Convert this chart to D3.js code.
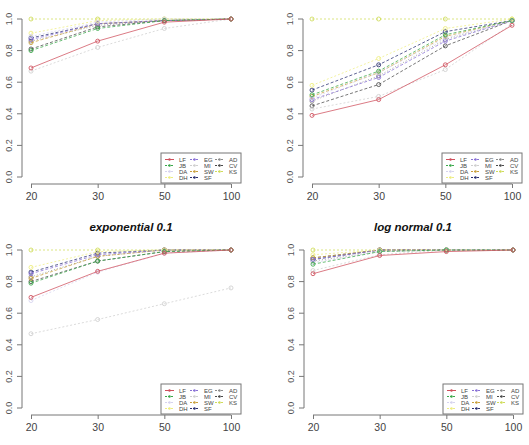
<!DOCTYPE html>
<html>
<head>
<meta charset="utf-8">
<script src="https://cdn.jsdelivr.net/npm/d3@7"></script>
<style>
  body { margin: 0; background: #fff; }
  svg { display: block; font-family: "Liberation Sans", Arial, sans-serif; }
</style>
</head>
<body>
<div id="chart"></div>
<script>
var sizes = ["20", "30", "50", "100"];
var yTicks = [0, 0.2, 0.4, 0.6, 0.8, 1.0];
var tests = ["LF", "JB", "DA", "DH", "EG", "MI", "SW", "SF", "AD", "CV", "KS"];
var testColors = ["#cf4f5c", "#3aa84a", "#d6d3ee", "#eded80", "#8a72d6", "#cfcfcf", "#c9a03c", "#2a3070", "#8c8c8c", "#4a4a4a", "#cfdc5a"];
var testDash = ["", "3,2", "2,2", "2,2", "3,2", "2,2", "3,2", "3,2", "1,2", "3,2", "2,2"];
var titles = ["", "", "exponential 0.1", "log normal 0.1"];

// power by sample size, one array per test, per panel
var panel1 = {
  LF: [0.69, 0.86, 0.98, 1.0],
  JB: [0.80, 0.94, 0.99, 1.0],
  DA: [0.89, 0.98, 1.0, 1.0],
  DH: [0.91, 0.99, 1.0, 1.0],
  EG: [0.87, 0.97, 0.99, 1.0],
  MI: [0.67, 0.82, 0.94, 1.0],
  SW: [0.85, 0.97, 0.99, 1.0],
  SF: [0.88, 0.97, 0.99, 1.0],
  AD: [0.86, 0.96, 0.99, 1.0],
  CV: [0.81, 0.95, 0.99, 1.0],
  KS: [1.0, 1.0, 1.0, 1.0]
};
var panel2 = {
  LF: [0.39, 0.49, 0.71, 0.96],
  JB: [0.52, 0.67, 0.90, 0.99],
  DA: [0.50, 0.66, 0.88, 0.99],
  DH: [0.58, 0.75, 0.94, 1.0],
  EG: [0.49, 0.63, 0.86, 0.99],
  MI: [0.43, 0.51, 0.68, 0.97],
  SW: [0.51, 0.66, 0.89, 0.99],
  SF: [0.55, 0.71, 0.92, 0.99],
  AD: [0.48, 0.64, 0.87, 0.99],
  CV: [0.45, 0.585, 0.83, 0.99],
  KS: [1.0, 1.0, 1.0, 1.0]
};
var panel3 = {
  LF: [0.70, 0.865, 0.98, 1.0],
  JB: [0.79, 0.93, 0.99, 1.0],
  DA: [0.68, 0.86, 0.98, 1.0],
  DH: [0.89, 0.99, 1.0, 1.0],
  EG: [0.85, 0.97, 1.0, 1.0],
  MI: [0.47, 0.56, 0.66, 0.76],
  SW: [0.82, 0.96, 1.0, 1.0],
  SF: [0.86, 0.98, 1.0, 1.0],
  AD: [0.83, 0.96, 1.0, 1.0],
  CV: [0.80, 0.93, 0.99, 1.0],
  KS: [1.0, 1.0, 1.0, 1.0]
};
var panel4 = {
  LF: [0.85, 0.965, 0.99, 1.0],
  JB: [0.91, 0.99, 1.0, 1.0],
  DA: [0.92, 0.99, 1.0, 1.0],
  DH: [0.97, 1.0, 1.0, 1.0],
  EG: [0.94, 1.0, 1.0, 1.0],
  MI: [0.87, 0.97, 1.0, 1.0],
  SW: [0.95, 1.0, 1.0, 1.0],
  SF: [0.94, 1.0, 1.0, 1.0],
  AD: [0.93, 0.99, 1.0, 1.0],
  CV: [0.95, 1.0, 1.0, 1.0],
  KS: [1.0, 1.0, 1.0, 1.0]
};
var panels = [panel1, panel2, panel3, panel4];

function init() {
  var W = 529, H = 445;
  var svg = d3.select("#chart").append("svg")
      .attr("width", W).attr("height", H);

  // panel origins (left axis x, top of the 1.0 tick)
  var origins = [[22, 19], [303, 19], [22, 250], [304, 250]];

  panels.forEach(function(data, i) {
    var ox = origins[i][0], oy = origins[i][1];
    var g = svg.append("g").attr("transform", `translate(${ox}, ${oy})`);

    var x = d3.scalePoint().domain(sizes).range([9, 209]);
    var y = d3.scaleLinear().domain([0, 1]).range([158, 0]);

    // title
    if (titles[i]) {
      g.append("text")
        .attr("x", 109).attr("y", -19)
        .attr("text-anchor", "middle")
        .style("font-size", "11.5px")
        .style("font-weight", "bold")
        .style("font-style", "italic")
        .attr("fill", "#111")
        .text(titles[i]);
    }

    // y axis
    var ya = g.append("g")
      .call(d3.axisLeft(y).tickValues(yTicks).tickSize(5).tickFormat(d3.format(".1f")));
    ya.select(".domain").attr("stroke", "#777").attr("d", "M0," + y(0) + "V" + y(1));
    ya.selectAll(".tick").attr("transform", "translate(0,0)");
    ya.selectAll(".tick line")
      .attr("stroke", "#777")
      .attr("y1", function(d) { return y(d); })
      .attr("y2", function(d) { return y(d); });
    ya.selectAll(".tick text")
      .attr("fill", "#555")
      .style("font-size", "9px")
      .attr("transform", "rotate(-90)")
      .attr("dy", "0")
      .style("text-anchor", "middle")
      .attr("x", function(d) { return -y(d); })
      .attr("y", -10);

    // x axis
    var xa = g.append("g")
      .attr("transform", "translate(0, 165)")
      .call(d3.axisBottom(x).tickSize(4));
    xa.select(".domain").attr("stroke", "#777").attr("d", "M" + x("20") + ",0H" + x("100"));
    xa.selectAll(".tick line").attr("stroke", "#777");
    xa.selectAll(".tick text")
      .attr("fill", "#444")
      .style("font-size", "10.5px")
      .attr("y", 9);

    // lines and points, drawn from last test to first so LF stays on top
    var line = d3.line()
      .x(function(d, j) { return x(sizes[j]); })
      .y(function(d) { return y(d); });

    tests.slice().reverse().forEach(function(t) {
      var k = tests.indexOf(t);
      var vals = data[t];
      g.append("path")
        .datum(vals)
        .attr("d", line)
        .attr("fill", "none")
        .attr("stroke", testColors[k])
        .attr("stroke-width", 1)
        .attr("stroke-dasharray", testDash[k])
        .attr("opacity", 0.75);
      g.selectAll(null)
        .data(vals)
        .enter().append("circle")
        .attr("cx", function(d, j) { return x(sizes[j]); })
        .attr("cy", function(d) { return y(d); })
        .attr("r", 2)
        .attr("fill", "none")
        .attr("stroke", testColors[k])
        .attr("stroke-width", 1)
        .attr("opacity", 0.85);
    });

    // legend
    var lg = g.append("g").attr("transform", "translate(139, 134)");
    lg.append("rect")
      .attr("x", 0).attr("y", 0)
      .attr("width", 80).attr("height", 30)
      .attr("fill", "#fff")
      .attr("stroke", "#777")
      .attr("stroke-width", 1);
    tests.forEach(function(t, k) {
      var col = Math.floor(k / 4), row = k % 4;
      var lx = 4 + col * 25, ly = 6.5 + row * 6;
      lg.append("line")
        .attr("x1", lx).attr("x2", lx + 9)
        .attr("y1", ly).attr("y2", ly)
        .attr("stroke", testColors[k])
        .attr("stroke-width", 1)
        .attr("stroke-dasharray", testDash[k] ? "2,1" : "");
      lg.append("circle")
        .attr("cx", lx + 4.5).attr("cy", ly)
        .attr("r", 1.2)
        .attr("fill", testColors[k]);
      lg.append("text")
        .attr("x", lx + 14).attr("y", ly + 2)
        .style("font-size", "6px")
        .attr("fill", "#444")
        .text(t);
    });
  });
}

window.onload = init;
</script>
</body>
</html>
